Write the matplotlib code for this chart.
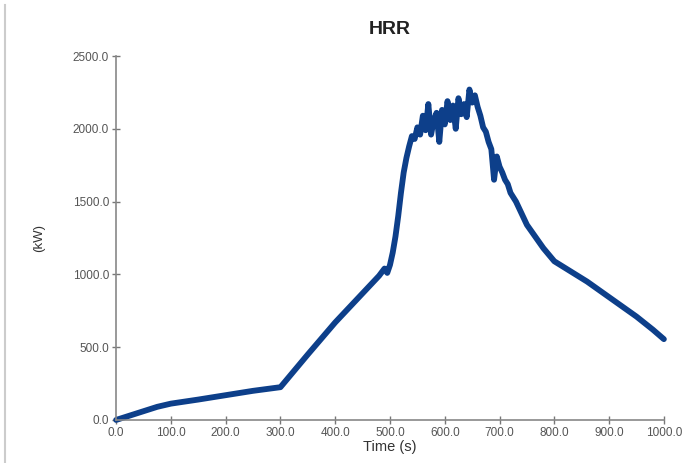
import matplotlib.pyplot as plt
from matplotlib.lines import Line2D

plt.rcParams['font.family'] = ['Liberation Sans', 'DejaVu Sans']

# Data
time_s = [0, 25, 50, 75, 100, 150, 200, 250, 300, 350, 400, 450, 480, 490, 495, 500,
          505, 510, 515, 520, 525, 530, 535, 540, 545, 550, 555, 560, 565, 570, 575,
          580, 585, 590, 595, 600, 605, 610, 615, 620, 625, 630, 635, 640, 645, 650,
          655, 660, 665, 670, 675, 680, 685, 690, 695, 700, 705, 710, 715, 720, 730,
          740, 750, 765, 780, 800, 830, 860, 890, 920, 950, 980, 1000]
hrr_kw = [0, 30, 60, 90, 112, 140, 170, 200, 225, 450, 670, 870, 990, 1040, 1010, 1065,
          1150, 1260, 1400, 1560, 1700, 1800, 1880, 1950, 1930, 2010, 1960, 2090, 1990,
          2170, 1960, 2060, 2110, 1910, 2130, 2030, 2190, 2060, 2160, 2000, 2210, 2100,
          2170, 2080, 2270, 2180, 2230, 2150, 2090, 2010, 1980, 1910, 1860, 1650, 1810,
          1740, 1700, 1650, 1620, 1560, 1500, 1420, 1340, 1260, 1180, 1090, 1020, 950,
          870, 790, 710, 620, 555]

yticks = [0, 500, 1000, 1500, 2000, 2500]
xticks = [0, 100, 200, 300, 400, 500, 600, 700, 800, 900, 1000]

fig = plt.figure(figsize=(6.83, 4.63), dpi=100)
ax = fig.add_axes([0.170, 0.093, 0.802, 0.786])

ax.plot(time_s, hrr_kw, color='#0d3f8a', linewidth=4.2, solid_joinstyle='round',
        solid_capstyle='round', clip_on=False)

ax.set_xlim(0, 1000)
ax.set_ylim(0, 2500)
ax.set_xticks(xticks)
ax.set_yticks(yticks)
ax.set_xticklabels(['%.1f' % v for v in xticks])
ax.set_yticklabels(['%.1f' % v for v in yticks])
ax.tick_params(direction='inout', length=6, width=1, color='#777777',
               labelsize=8.5, labelcolor='#555555', pad=2)

for s in ['top', 'right']:
    ax.spines[s].set_visible(False)
for s in ['left', 'bottom']:
    ax.spines[s].set_color('#888888')
    ax.spines[s].set_linewidth(1.2)

ax.set_title('HRR', fontsize=14, fontweight='bold', color='#222222', pad=16)
ax.set_xlabel('Time (s)', fontsize=10.5, color='#333333', labelpad=1)
ax.set_ylabel('(kW)', fontsize=9.5, color='#333333', labelpad=20)

# screenshot frame line on the left
fig.add_artist(Line2D([0.008, 0.008], [0, 0.99], color='#cccccc', linewidth=1.5))

fig.savefig('out.png', dpi=100)
